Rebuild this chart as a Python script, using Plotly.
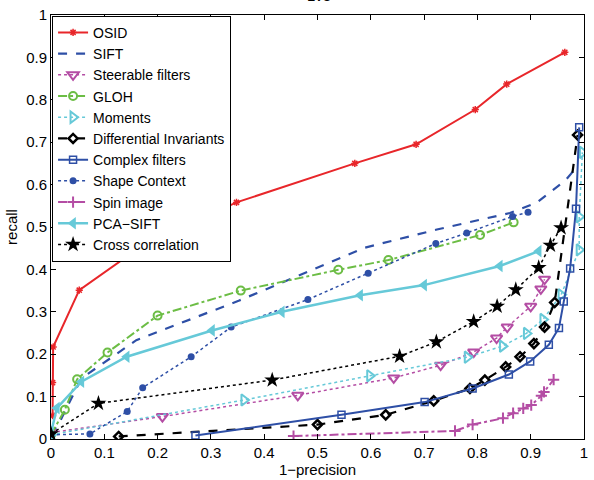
import plotly.graph_objects as go

# ---- data (1-precision, recall) ----
osid_x = [0.003, 0.003, 0.004, 0.053, 0.169, 0.348, 0.570, 0.685, 0.796, 0.855, 0.964]
osid_y = [0.055, 0.133, 0.217, 0.351, 0.454, 0.558, 0.650, 0.695, 0.777, 0.837, 0.912]

sift_x = [0.0, 0.017, 0.057, 0.16, 0.352, 0.46, 0.588, 0.724, 0.861, 0.911, 0.966, 0.98]
sift_y = [0.01, 0.042, 0.143, 0.233, 0.326, 0.384, 0.451, 0.494, 0.533, 0.557, 0.611, 0.632]

steer_x = [0.0, 0.209, 0.463, 0.643, 0.731, 0.793, 0.836, 0.856, 0.900, 0.919, 0.926]
steer_y = [0.015, 0.053, 0.103, 0.144, 0.174, 0.205, 0.238, 0.264, 0.313, 0.354, 0.377]

gloh_x = [0.0, 0.026, 0.049, 0.106, 0.200, 0.356, 0.539, 0.633, 0.805, 0.868]
gloh_y = [0.01, 0.069, 0.141, 0.204, 0.291, 0.350, 0.399, 0.422, 0.481, 0.511]

mom_x = [0.0, 0.362, 0.598, 0.781, 0.847, 0.892, 0.923, 0.957, 0.991, 0.991, 0.997]
mom_y = [0.01, 0.092, 0.149, 0.193, 0.219, 0.249, 0.282, 0.340, 0.446, 0.524, 0.676]

di_x = [0.127, 0.50, 0.628, 0.718, 0.786, 0.814, 0.853, 0.880, 0.906, 0.926, 0.945, 0.988]
di_y = [0.006, 0.034, 0.057, 0.090, 0.119, 0.139, 0.170, 0.194, 0.225, 0.264, 0.322, 0.717]

cf_x = [0.271, 0.545, 0.701, 0.791, 0.859, 0.899, 0.934, 0.953, 0.962, 0.974, 0.985, 0.991]
cf_y = [0.008, 0.057, 0.087, 0.119, 0.152, 0.183, 0.222, 0.262, 0.324, 0.402, 0.543, 0.735]

sc_x = [0.0, 0.073, 0.143, 0.172, 0.263, 0.338, 0.482, 0.595, 0.722, 0.780, 0.866, 0.895]
sc_y = [0.01, 0.012, 0.065, 0.121, 0.194, 0.264, 0.329, 0.391, 0.461, 0.486, 0.525, 0.535]

spin_x = [0.455, 0.758, 0.791, 0.848, 0.867, 0.886, 0.901, 0.920, 0.925, 0.943]
spin_y = [0.007, 0.019, 0.034, 0.049, 0.061, 0.072, 0.080, 0.102, 0.111, 0.140]

pca_x = [0.0, 0.011, 0.057, 0.142, 0.302, 0.433, 0.580, 0.700, 0.842, 0.915]
pca_y = [0.014, 0.073, 0.135, 0.194, 0.256, 0.300, 0.339, 0.363, 0.408, 0.443]

cc_x = [0.0, 0.089, 0.415, 0.654, 0.723, 0.793, 0.837, 0.872, 0.915, 0.937, 0.957]
cc_y = [0.012, 0.084, 0.139, 0.195, 0.229, 0.277, 0.313, 0.352, 0.404, 0.457, 0.498]

x_ticks = [0, 0.1, 0.2, 0.3, 0.4, 0.5, 0.6, 0.7, 0.8, 0.9, 1]
x_ticklabels = ["0", "0.1", "0.2", "0.3", "0.4", "0.5", "0.6", "0.7", "0.8", "0.9", "1"]
y_ticks = [0, 0.1, 0.2, 0.3, 0.4, 0.5, 0.6, 0.7, 0.8, 0.9, 1]
y_ticklabels = ["0", "0.1", "0.2", "0.3", "0.4", "0.5", "0.6", "0.7", "0.8", "0.9", "1"]

RED = "#e8262a"
BLUE = "#2e4fa6"
MAG = "#b44da4"
GREEN = "#6cbd45"
CYAN = "#66c9d8"
BLACK = "#000000"

series = [
    ("OSID", osid_x, osid_y, RED, "solid", 2, "asterisk-open", 6, 1.5),
    ("SIFT", sift_x, sift_y, BLUE, "dash", 2.2, None, 0, 0),
    ("Steerable filters", steer_x, steer_y, MAG, "dot", 1.5, "triangle-down-open", 10, 2),
    ("GLOH", gloh_x, gloh_y, GREEN, "dashdot", 2, "circle-open", 8, 2),
    ("Moments", mom_x, mom_y, CYAN, "dot", 1.5, "triangle-right-open", 10, 2),
    ("Differential Invariants", di_x, di_y, BLACK, "dash", 2.2, "diamond-open", 7, 2.5),
    ("Complex filters", cf_x, cf_y, BLUE, "solid", 2, "square-open", 7, 1.5),
    ("Shape Context", sc_x, sc_y, BLUE, "dot", 1.5, "circle", 7, 0),
    ("Spin image", spin_x, spin_y, MAG, "dashdot", 2, "cross-thin-open", 8, 2),
    ("PCA−SIFT", pca_x, pca_y, CYAN, "solid", 2.5, "triangle-left", 11, 0),
    ("Cross correlation", cc_x, cc_y, BLACK, "dot", 1.5, "star", 12, 0),
]

fig = go.Figure()
for name, xs, ys, col, dash, lw, sym, msz, mlw in series:
    if sym is None:
        fig.add_trace(go.Scatter(x=xs, y=ys, name=name, mode="lines",
                                 line=dict(color=col, dash=dash, width=lw)))
    else:
        fig.add_trace(go.Scatter(x=xs, y=ys, name=name, mode="lines+markers",
                                 line=dict(color=col, dash=dash, width=lw),
                                 marker=dict(symbol=sym, size=msz, color=col,
                                             line=dict(color=col, width=mlw))))

axis_common = dict(showline=True, linecolor="black", linewidth=1, mirror="allticks",
                   ticks="inside", ticklen=5, tickcolor="black", showgrid=False,
                   zeroline=False, tickfont=dict(size=15, color="black"))

fig.update_layout(
    width=594, height=480,
    margin=dict(l=51, r=6, t=14, b=39),
    paper_bgcolor="white", plot_bgcolor="white",
    font=dict(family="Liberation Sans, Arial, sans-serif", size=15, color="black"),
    xaxis=dict(range=[0, 1], tickvals=x_ticks, ticktext=x_ticklabels,
               title=dict(text="1−precision", standoff=2, font=dict(size=15)), **axis_common),
    yaxis=dict(range=[0, 1], tickvals=y_ticks, ticktext=y_ticklabels,
               title=dict(text="recall", standoff=4, font=dict(size=15)), **axis_common),
    legend=dict(x=0.002, y=0.998, xanchor="left", yanchor="top",
                bgcolor="white", bordercolor="black", borderwidth=1,
                font=dict(size=14), itemwidth=30, tracegroupgap=0),
    showlegend=True,
    annotations=[dict(text="1v3", xref="paper", yref="paper", x=0.503, y=1.045,
                      xanchor="center", yanchor="middle", showarrow=False,
                      font=dict(size=15))],
)

fig.write_html("out.html")
